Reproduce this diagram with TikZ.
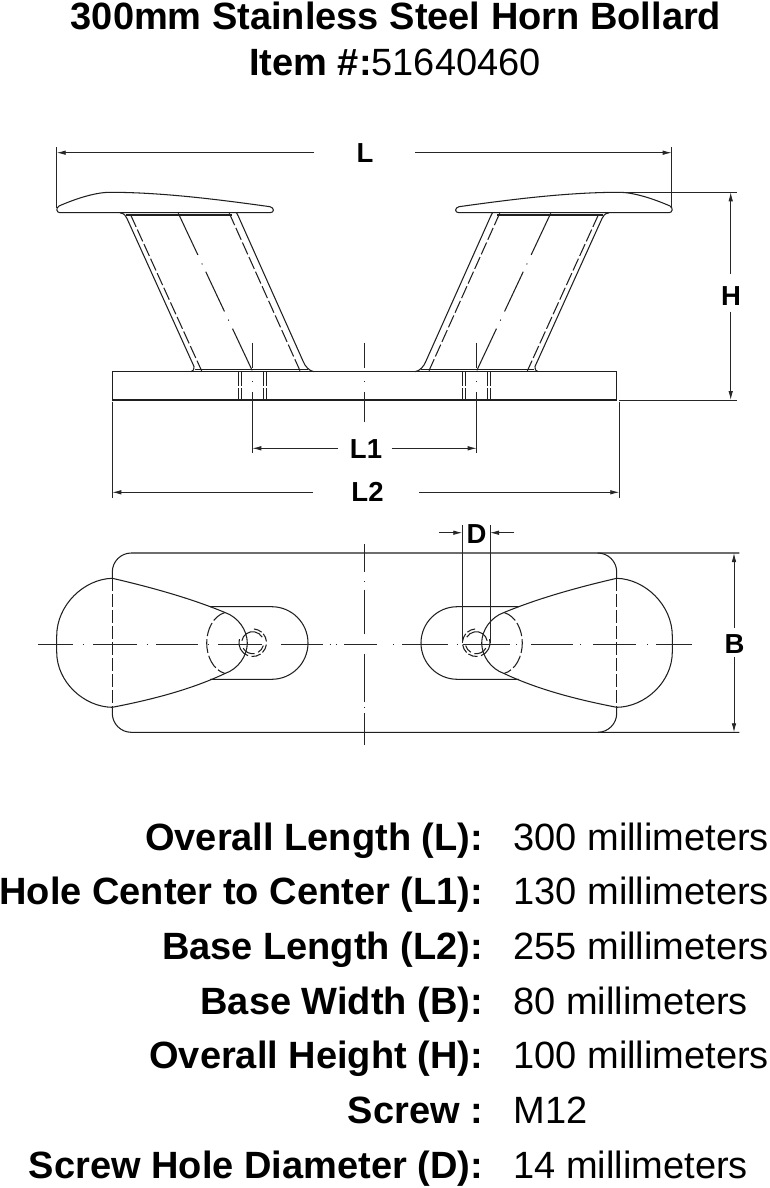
\documentclass[tikz,border=0pt]{standalone}
\usepackage{fontspec}
\setmainfont{Liberation Sans}
\usetikzlibrary{arrows.meta}
\tikzset{
  ln/.style={line width=1.05pt,draw=black!88},
  hid/.style={ln,dash pattern=on 13pt off 3pt},
  dimln/.style={line width=0.85pt,draw=black!85,-{Latex[length=9pt,width=4.5pt]}},
  extln/.style={line width=0.85pt,draw=black!85},
  title/.style={font=\fontsize{38}{40}\selectfont\bfseries,anchor=base},
  lbl/.style={font=\fontsize{38}{40}\selectfont\bfseries,anchor=base east},
  val/.style={font=\fontsize{38}{40}\selectfont,anchor=base west},
  dimtxt/.style={font=\fontsize{27.5}{30}\selectfont\bfseries,anchor=base},
}
\newcommand{\sidehalf}{%
  % cap
  \draw[ln] (60,212.7) .. controls (56.5,212.7) and (55.5,208) .. (59,206)
     .. controls (75,199) and (95,192.3) .. (110,192.3)
     .. controls (160,192.3) and (215,199) .. (270,206.7)
     .. controls (274.5,207.8) and (274.5,212.7) .. (270,212.7) -- cycle;
  % neck
  \draw[ln] (126,215) -- (232,215);
  \draw[ln] (120,212.9) .. controls (124,213) and (126,216) .. (127,218.5) -- (194,366.5)
     .. controls (195,369) and (193,371) .. (191,371.7);
  \draw[hid] (130.7,215) -- (201.7,371);
  \draw[ln,dash pattern=on 46pt off 9.5pt on 1pt off 8pt on 44pt off 9pt on 1pt off 9pt on 46pt] (178.3,213.3) -- (252.3,370.7);
  \draw[hid] (229.3,213.3) -- (300,370.7);
  \draw[ln] (236.7,213) .. controls (238,215) and (239,218) .. (240,220) -- (303.3,361.7)
     .. controls (305,366) and (309,371) .. (314,371.7);
  \draw[ln] (195,369.3) -- (308,369.3);
  % mounting hole
  \foreach \hx in {238.8,241.8,263.3,266.3}{
    \draw[ln] (\hx,371.7) -- (\hx,385.5);
    \draw[ln] (\hx,388) -- (\hx,400);
  }
  % plan view
  \draw[ln] (112.3,578.3) .. controls (84,579) and (56.7,605) .. (56.7,636)
     -- (56.7,652) .. controls (56.7,682) and (84,707) .. (112.3,707.3);
  \draw[ln] (112.3,578.3) .. controls (150,587) and (190,598) .. (225,612.5);
  \draw[ln] (112.3,707.3) .. controls (150,700) and (190,690) .. (225,673.5);
  \draw[hid] (112.3,578.3) -- (112.3,707.3);
  \draw[ln] (225,612.5) .. controls (238,617) and (247.3,630) .. (247.3,643)
     .. controls (247.3,656) and (238,669) .. (225,673.5);
  \draw[ln,dash pattern=on 14pt off 3pt] (225,612.5) .. controls (213,616) and (206.7,630) .. (206.7,643)
     .. controls (206.7,656) and (213,670) .. (225,673.5);
  \draw[ln] (210,606.7) -- (271.7,606.7) arc[start angle=-90,end angle=90,radius=36.3] -- (210,679.3);
  % countersunk hole
  \foreach \sa/\ea in {-85/-50,-40/-5,8/45,55/95,110/195}{
    \draw[ln] (252.7,642.7) ++(\sa:13.8) arc[start angle=\sa,end angle=\ea,radius=13.8];
  }
  \foreach \sa/\ea in {-170/-30,15/60,80/150}{
    \draw[ln] (252.7,642.7) ++(\sa:11) arc[start angle=\sa,end angle=\ea,radius=11];
  }
}
\begin{document}
\begin{tikzpicture}[x=1pt,y=-1pt]
\useasboundingbox (0,0) rectangle (770,1188);
\fill[white] (0,0) rectangle (770,1188);
% titles
\node[title] (t1) at (396,30) {300mm Stainless Steel Horn Bollard};
\node[title] (t2) at (395,75.5) {Item \#:{\mdseries 51640460}};
% halves
\sidehalf
\begin{scope}[shift={(729,0)},xscale=-1]
\sidehalf
\end{scope}
% base side
\draw[ln] (112.3,371.7) rectangle (616.7,400);
% base plan
\draw[ln] (112.3,578.3) -- (112.3,572) arc[start angle=180,end angle=270,radius=19] -- (739.3,553);
\draw[ln] (112.3,707.3) -- (112.3,713.3) arc[start angle=180,end angle=90,radius=19] -- (739.3,732.3);
\draw[ln] (616.7,578.3) -- (616.7,572) arc[start angle=0,end angle=-90,radius=19];
\draw[ln] (616.7,707.3) -- (616.7,713.3) arc[start angle=0,end angle=90,radius=19];
% centre lines
\foreach \cx/\ye in {252.3/453.3,476.7/453.3,364.3/422}{
  \draw[extln] (\cx,342.7) -- (\cx,368);
  \draw[extln] (\cx,381) -- (\cx,382);
  \draw[extln] (\cx,392) -- (\cx,\ye);
}
\foreach \a/\b in {38.3/73.3,83/84,93.3/136.7,146.5/147.5,156/198,207.5/208.5,218/262,281/323,329.5/330.5,336/337,344/377,393/394,402/448,457/458,463/510,516/517,531/573,580/581,593/636,647/648,656/691.7}{
  \draw[extln] (\a,644.3) -- (\b,644.3);
}
\foreach \a/\b in {544.3/571.7,581/582,590/634,654/701.7,706.5/707.5,713/745}{
  \draw[extln] (364.3,\a) -- (364.3,\b);
}
% L
\draw[extln] (56.7,147.3) -- (56.7,208);
\draw[extln] (671.7,147.3) -- (671.7,208);
\draw[dimln] (314,152.7) -- (56.7,152.7);
\draw[dimln] (415,152.7) -- (671.7,152.7);
\node[dimtxt] (dL) at (365,162) {L};
% L1
\draw[dimln] (337.7,448.3) -- (252.3,448.3);
\draw[dimln] (391.7,448.3) -- (476.7,448.3);
\node[dimtxt] (dLa) at (366,458) {L1};
% L2
\draw[extln] (112.3,401.7) -- (112.3,498.3);
\draw[extln] (619.3,401.7) -- (619.3,498.3);
\draw[dimln] (312.7,492.3) -- (112.3,492.3);
\draw[dimln] (419.3,492.3) -- (619.3,492.3);
\node[dimtxt] (dLb) at (367.5,501.7) {L2};
% H
\draw[extln] (620,192.3) -- (736.7,192.3);
\draw[extln] (619.3,400) -- (736.7,400);
\draw[dimln] (730.7,274) -- (730.7,192.3);
\draw[dimln] (730.7,311.7) -- (730.7,400);
\node[dimtxt] (dH) at (731,305.7) {H};
% D
\draw[extln] (462.3,525) -- (462.3,643);
\draw[extln] (490,525) -- (490,643);
\draw[dimln] (439.3,532.7) -- (462.3,532.7);
\draw[dimln] (514,532.7) -- (490,532.7);
\node[dimtxt] (dD) at (476.5,543) {D};
% B
\draw[dimln] (734,628) -- (734,553);
\draw[dimln] (734,656.7) -- (734,732.3);
\node[dimtxt] (dB) at (734.5,653) {B};
% table
\node[lbl] (l1) at (486.5,850) {Overall Length (L):};
\node[lbl] (l2) at (486.5,904) {Hole Center to Center (L1):};
\node[lbl] (l3) at (486.5,959) {Base Length (L2):};
\node[lbl] (l4) at (486.5,1014) {Base Width (B):};
\node[lbl] (l5) at (486.5,1068) {Overall Height (H):};
\node[lbl] (l6) at (486.5,1123) {Screw :};
\node[lbl] (l7) at (486.5,1178) {Screw Hole Diameter (D):};
\node[val] (v1) at (510,850) {300 millimeters};
\node[val] (v2) at (510,904) {130 millimeters};
\node[val] (v3) at (510,959) {255 millimeters};
\node[val] (v4) at (510,1014) {80 millimeters};
\node[val] (v5) at (510,1068) {100 millimeters};
\node[val] (v6) at (510,1123) {M12};
\node[val] (v7) at (510,1178) {14 millimeters};
\end{tikzpicture}
\end{document}
